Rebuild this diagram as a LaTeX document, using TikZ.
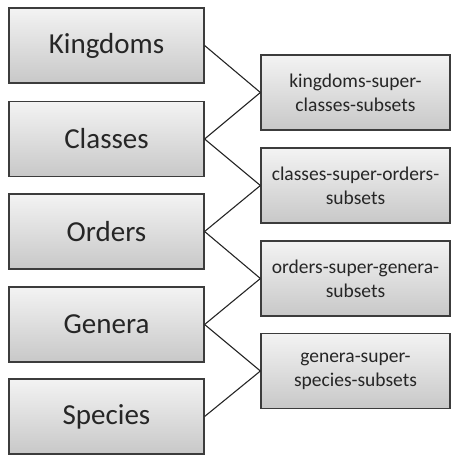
\documentclass[tikz,border=0pt]{standalone}
\usepackage{fontspec}
\setmainfont{Carlito}
\usetikzlibrary{positioning}
\definecolor{boxtop}{HTML}{F3F3F3}
\definecolor{boxbot}{HTML}{C8C8C8}
\definecolor{boxline}{HTML}{3C3C3C}
\definecolor{txt}{HTML}{262626}
\tikzset{
  x=1pt,y=-1pt,
  levelbox/.style={draw=boxline, line width=1.2pt, top color=boxtop, bottom color=boxbot,
    minimum width=195pt, minimum height=75pt, inner sep=0pt, text=txt,
    font=\fontsize{29}{33}\selectfont},
  setbox/.style={draw=boxline, line width=1.2pt, top color=boxtop, bottom color=boxbot,
    minimum width=189pt, minimum height=75pt, inner sep=0pt, text=txt, align=center,
    font=\fontsize{19.5}{24}\selectfont},
  link/.style={draw=black!85, line width=1.1pt}
}
\begin{document}
\begin{tikzpicture}
\useasboundingbox (0,0) rectangle (452,455);
\node[levelbox] (k) at (106.5,45.5) {Kingdoms};
\node[levelbox] (c) at (106.5,139) {Classes};
\node[levelbox] (o) at (106.5,231.5) {Orders};
\node[levelbox] (g) at (106.5,324.5) {Genera};
\node[levelbox] (s) at (106.5,416.5) {Species};
\node[setbox] (kc) at (355.5,92.5) {kingdoms-super-\\classes-subsets};
\node[setbox] (co) at (355.5,185.5) {classes-super-orders-\\subsets};
\node[setbox] (og) at (355.5,278.5) {orders-super-genera-\\subsets};
\node[setbox] (gs) at (355.5,371) {genera-super-\\species-subsets};
\draw[link] (k.east) -- (kc.west);
\draw[link] (c.east) -- (kc.west);
\draw[link] (c.east) -- (co.west);
\draw[link] (o.east) -- (co.west);
\draw[link] (o.east) -- (og.west);
\draw[link] (g.east) -- (og.west);
\draw[link] (g.east) -- (gs.west);
\draw[link] (s.east) -- (gs.west);
\end{tikzpicture}
\end{document}
